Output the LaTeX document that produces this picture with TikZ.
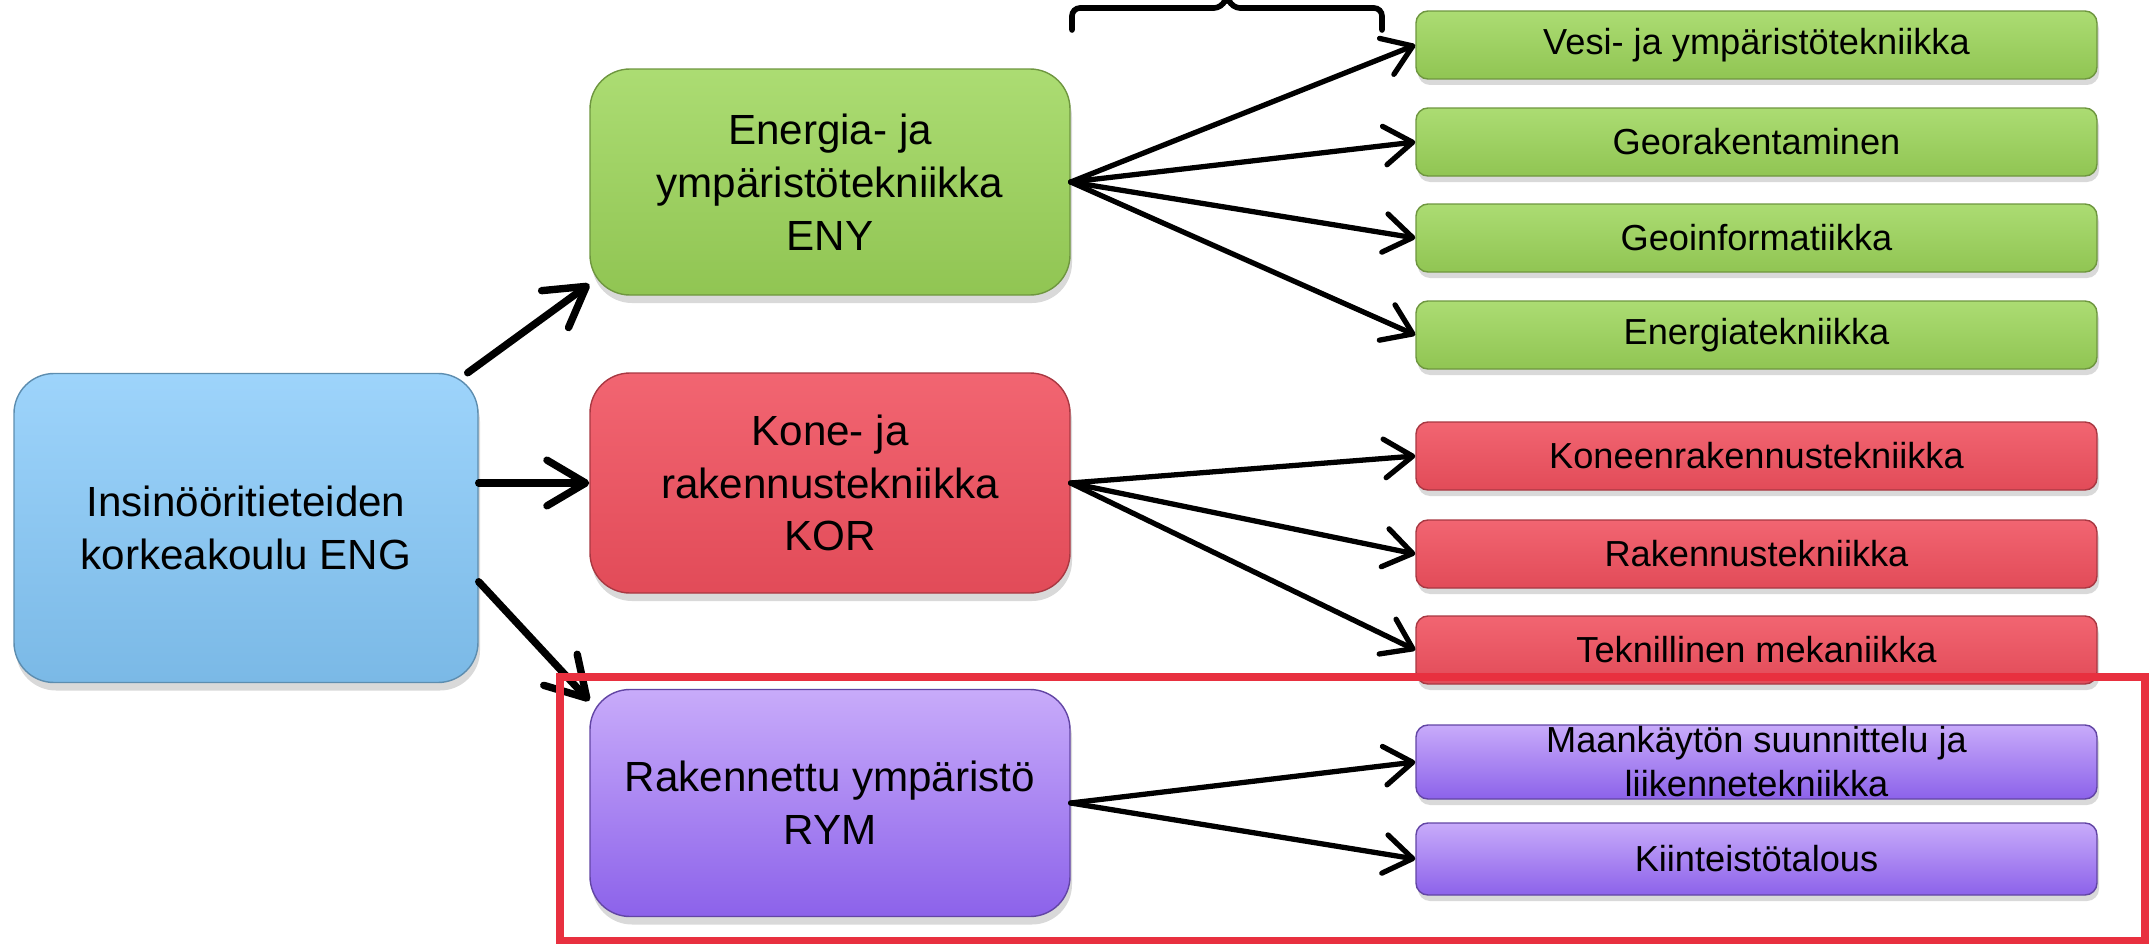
\documentclass[tikz,border=0pt]{standalone}
\usepackage{fontspec}
\setmainfont{Liberation Sans}
\usetikzlibrary{arrows.meta,shadows}

\definecolor{engblue}{HTML}{85C9FA}
\definecolor{enygreen}{HTML}{9DD65A}
\definecolor{korred}{HTML}{F0505E}
\definecolor{rymtop}{HTML}{C8ABFA}
\definecolor{rymbot}{HTML}{8C62EA}
\definecolor{framered}{HTML}{E8303F}

\tikzset{
  bigbox/.style={rounded corners=0.4cm, minimum width=4.8cm, minimum height=2.26cm,
    inner sep=0pt, align=center, font=\fontsize{12}{15}\selectfont,
    drop shadow={shadow xshift=0.02cm, shadow yshift=-0.08cm, opacity=0.3}},
  subbox/.style={rounded corners=0.12cm, minimum width=6.81cm, minimum height=0.68cm,
    inner sep=0pt, align=center, font=\fontsize{10.3}{12.5}\selectfont,
    drop shadow={shadow xshift=0.02cm, shadow yshift=-0.06cm, opacity=0.3}},
  greenfill/.style={top color=enygreen!85!white, bottom color=enygreen!92!black, draw=enygreen!70!black, line width=0.4pt},
  redfill/.style={top color=korred!88!white, bottom color=korred!94!black, draw=korred!70!black, line width=0.4pt},
  purplefill/.style={top color=rymtop, bottom color=rymbot, draw=rymbot!70!black, line width=0.4pt},
  arr/.style={line width=2.1pt, line cap=round, -{Straight Barb[length=11pt,width=13pt,round]}},
  fan/.style={line width=1.5pt, line cap=round, -{Straight Barb[length=8pt,width=11pt,round]}}
}

\begin{document}
\begin{tikzpicture}
  \useasboundingbox (0,0) rectangle (21.52,-9.44);

  % school
  \node[bigbox, minimum width=4.64cm, minimum height=3.09cm, top color=engblue!80!white,
    bottom color=engblue!92!black, draw=engblue!70!black, line width=0.4pt]
    (eng) at (2.46,-5.28) {Insinööritieteiden\\korkeakoulu ENG};

  % departments
  \node[bigbox, greenfill] (eny) at (8.30,-1.82) {Energia- ja\\ympäristötekniikka\\ENY};
  \node[bigbox, redfill, minimum height=2.20cm] (kor) at (8.30,-4.83) {Kone- ja\\rakennustekniikka\\KOR};
  \node[bigbox, purplefill, minimum height=2.27cm] (rym) at (8.30,-8.03) {Rakennettu ympäristö\\RYM};

  % majors
  \node[subbox, greenfill] (vesi) at (17.565,-0.45) {Vesi- ja ympäristötekniikka};
  \node[subbox, greenfill] (geor) at (17.565,-1.42) {Georakentaminen};
  \node[subbox, greenfill] (geoinf) at (17.565,-2.38) {Geoinformatiikka};
  \node[subbox, greenfill] (energ) at (17.565,-3.35) {Energiatekniikka};

  \node[subbox, redfill] (kone) at (17.565,-4.56) {Koneenrakennustekniikka};
  \node[subbox, redfill] (rak) at (17.565,-5.54) {Rakennustekniikka};
  \node[subbox, redfill] (mek) at (17.565,-6.50) {Teknillinen mekaniikka};

  \node[subbox, purplefill, minimum height=0.74cm] (maa) at (17.565,-7.62) {Maankäytön suunnittelu ja\\liikennetekniikka};
  \node[subbox, purplefill, minimum height=0.72cm] (kiint) at (17.565,-8.59) {Kiinteistötalous};

  % arrows
  \draw[arr] (eng.35) -- (eny.203);
  \draw[arr] (eng.east |- kor.west) -- (kor.west);
  \draw[arr] (eng.-13) -- (rym.157);

  \foreach \c in {vesi,geor,geoinf,energ}
    \draw[fan] (eny.east) -- (\c.west);
  \foreach \c in {kone,rak,mek}
    \draw[fan] (kor.east) -- (\c.west);
  \foreach \c in {maa,kiint}
    \draw[fan] (rym.east) -- (\c.west);

  % brace at top
  \draw[line width=1.6pt, line cap=round, rounded corners=0.08cm]
    (10.72,-0.30) -- (10.72,-0.08) -- (12.22,-0.08) -- (12.27,0.05)
    -- (12.32,-0.08) -- (13.82,-0.08) -- (13.82,-0.30);

  % frame
  \draw[framered, line width=2pt] (5.60,-6.77) rectangle (21.45,-9.41);
\end{tikzpicture}
\end{document}
